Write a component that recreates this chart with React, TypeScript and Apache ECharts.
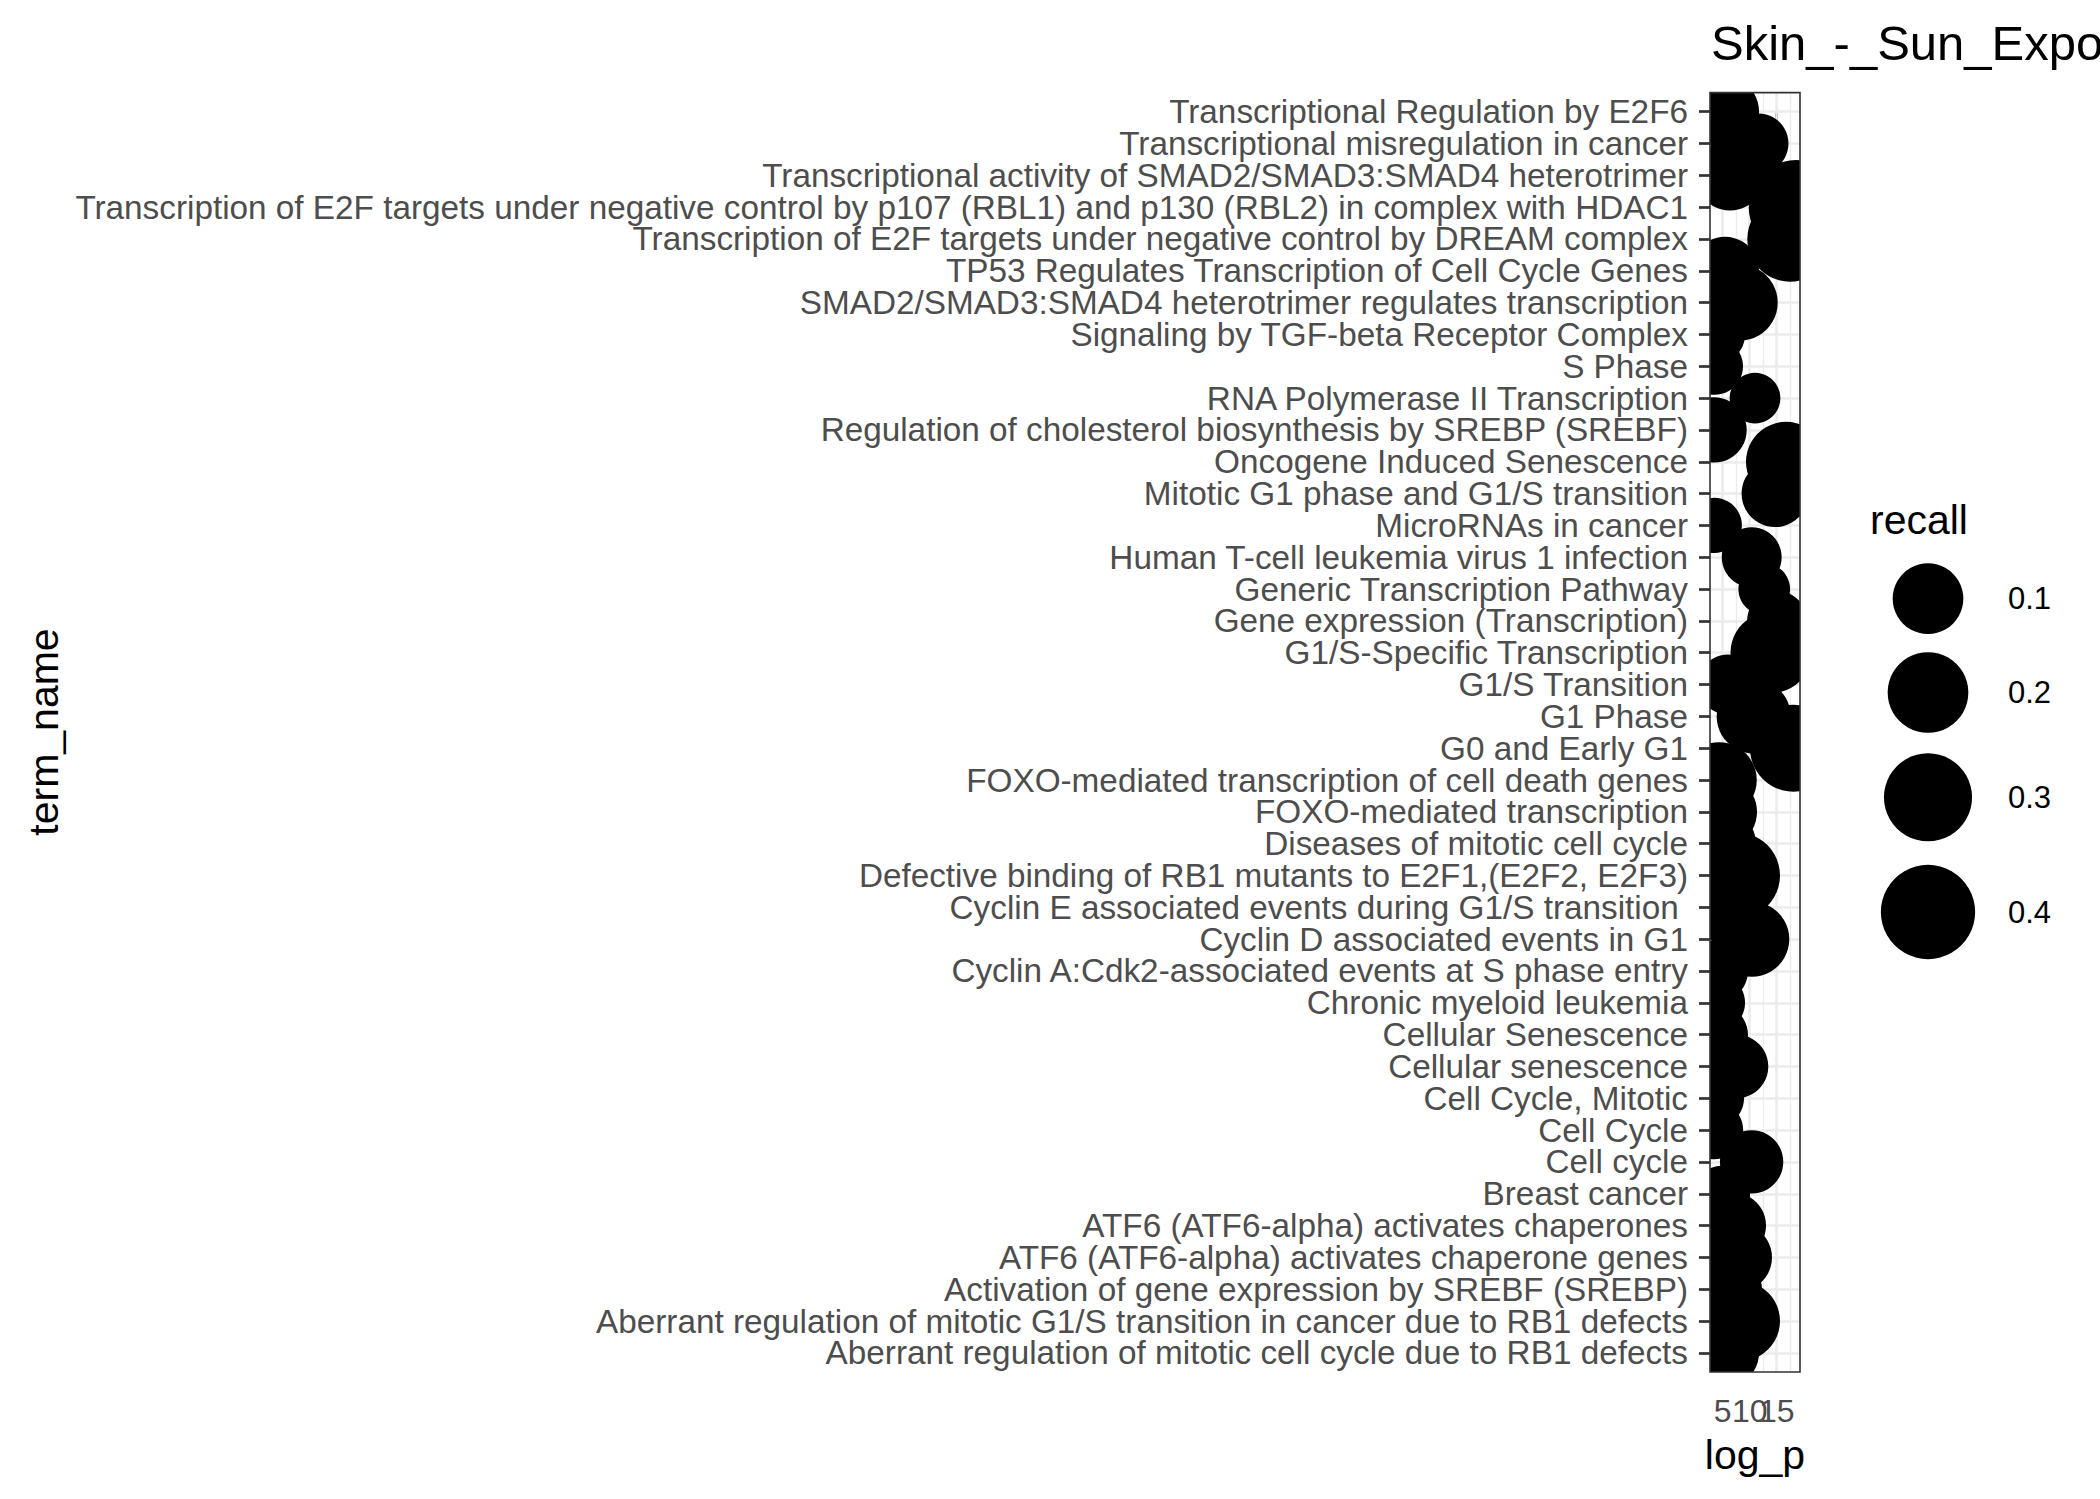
import { useEffect, useRef } from 'react';
import * as echarts from 'echarts';

// term names, top to bottom as drawn
const terms = [
  'Transcriptional Regulation by E2F6',
  'Transcriptional misregulation in cancer',
  'Transcriptional activity of SMAD2/SMAD3:SMAD4 heterotrimer',
  'Transcription of E2F targets under negative control by p107 (RBL1) and p130 (RBL2) in complex with HDAC1',
  'Transcription of E2F targets under negative control by DREAM complex',
  'TP53 Regulates Transcription of Cell Cycle Genes',
  'SMAD2/SMAD3:SMAD4 heterotrimer regulates transcription',
  'Signaling by TGF-beta Receptor Complex',
  'S Phase',
  'RNA Polymerase II Transcription',
  'Regulation of cholesterol biosynthesis by SREBP (SREBF)',
  'Oncogene Induced Senescence',
  'Mitotic G1 phase and G1/S transition',
  'MicroRNAs in cancer',
  'Human T-cell leukemia virus 1 infection',
  'Generic Transcription Pathway',
  'Gene expression (Transcription)',
  'G1/S-Specific Transcription',
  'G1/S Transition',
  'G1 Phase',
  'G0 and Early G1',
  'FOXO-mediated transcription of cell death genes',
  'FOXO-mediated transcription',
  'Diseases of mitotic cell cycle',
  'Defective binding of RB1 mutants to E2F1,(E2F2, E2F3)',
  'Cyclin E associated events during G1/S transition ',
  'Cyclin D associated events in G1',
  'Cyclin A:Cdk2-associated events at S phase entry',
  'Chronic myeloid leukemia',
  'Cellular Senescence',
  'Cellular senescence',
  'Cell Cycle, Mitotic',
  'Cell Cycle',
  'Cell cycle',
  'Breast cancer',
  'ATF6 (ATF6-alpha) activates chaperones',
  'ATF6 (ATF6-alpha) activates chaperone genes',
  'Activation of gene expression by SREBF (SREBP)',
  'Aberrant regulation of mitotic G1/S transition in cancer due to RB1 defects',
  'Aberrant regulation of mitotic cell cycle due to RB1 defects',
];

const logP = [
  5.06, 11.63, 6.35, 18.55, 17.46, 5.43, 8.17, 3.76, 3.48, 10.98,
  3.41, 16.72, 14.69, 3.45, 10.37, 12.69, 15.06, 13.94, 5.98, 10.74,
  18.11, 4.31, 4.69, 4.87, 7.65, 6.35, 10.39, 3.94, 3.76, 4.13,
  7.56, 3.57, 3.41, 10.35, 4.87, 6.91, 7.83, 6.35, 8.2, 5.43,
];

const recall = [
  0.111, 0.037, 0.095, 0.4, 0.261, 0.08, 0.146, 0.031, 0.028, 0.02,
  0.062, 0.192, 0.073, 0.024, 0.037, 0.0202, 0.037, 0.204, 0.037, 0.129,
  0.284, 0.144, 0.111, 0.08, 0.269, 0.148, 0.138, 0.046, 0.031, 0.037,
  0.053, 0.031, 0.031, 0.052, 0.026, 0.067, 0.08, 0.055, 0.192, 0.08,
];

// x tick labels: split over two axes so the overlapping labels are all kept
const xTicksOuter = [5, 15];
const xTicksMiddle = [10];
const xMajorGrid = [5, 10, 15];
const xMinorGrid = [7.5, 12.5, 17.5];
const legendBreaks = [0.1, 0.2, 0.3, 0.4];

const W = 2100;
const H = 1499;
const PANEL = { left: 1710, top: 92.6, width: 90, height: 1279.4 };
const X_MIN = 2.65;
const X_MAX = 19.31;
const Y_MIN = -0.6;
const Y_MAX = terms.length - 1 + 0.6;
const FONT = '"Liberation Sans", Arial, Helvetica, sans-serif';
const TICK_COLOR = '#333333';
const TEXT_GREY = '#4D4D4D';
const GRID_COLOR = '#EBEBEB';

// ggplot-like area scale: diameter in px
function sizeOf(r: number) {
  return 50.7 + 70.7 * Math.sqrt(Math.max(r - 0.02, 0));
}

const legendKeyY = [598.7, 692.5, 797.3, 912];

function xAxisFor(values: number[]) {
  return {
    type: 'value',
    position: 'bottom',
    gridIndex: 0,
    min: X_MIN,
    max: X_MAX,
    axisLine: { show: false },
    splitLine: { show: false },
    axisTick: {
      show: true,
      customValues: values,
      length: 11,
      lineStyle: { color: TICK_COLOR, width: 2.7 },
    },
    axisLabel: {
      show: true,
      customValues: values,
      showMinLabel: true,
      showMaxLabel: true,
      hideOverlap: false,
      color: TEXT_GREY,
      fontSize: 32,
      fontFamily: FONT,
      margin: 23,
    },
  };
}

function yAxisFor(values: number[]) {
  return {
    type: 'value',
    position: 'left',
    gridIndex: 0,
    inverse: true,
    min: Y_MIN,
    max: Y_MAX,
    axisLine: { show: false },
    splitLine: { show: false },
    axisTick: {
      show: true,
      customValues: values,
      length: 11,
      lineStyle: { color: TICK_COLOR, width: 2.7 },
    },
    axisLabel: {
      show: true,
      customValues: values,
      showMinLabel: true,
      showMaxLabel: true,
      hideOverlap: false,
      formatter: (v: number) => terms[Math.round(v)] ?? '',
      color: TEXT_GREY,
      fontSize: 33.3,
      fontFamily: FONT,
      margin: 22,
    },
  };
}

export default function App() {
  const ref = useRef<HTMLDivElement | null>(null);

  useEffect(() => {
    document.body.style.margin = '0';
    const chart = echarts.init(ref.current as HTMLDivElement, null, {
      renderer: 'svg',
      width: W,
      height: H,
    });
    const idx = terms.map((_, i) => i);
    const evenIdx = idx.filter((i) => i % 2 === 0);
    const oddIdx = idx.filter((i) => i % 2 === 1);
    const data = terms.map((_, i) => [logP[i], i, recall[i]]);

    const gridLines: any[] = [
      ...xMinorGrid.map((v) => ({ xAxis: v, lineStyle: { width: 1.3, color: GRID_COLOR, type: 'solid' } })),
      ...xMajorGrid.map((v) => ({ xAxis: v, lineStyle: { width: 2.6, color: GRID_COLOR, type: 'solid' } })),
      ...idx.map((i) => ({ yAxis: i, lineStyle: { width: 2.6, color: GRID_COLOR, type: 'solid' } })),
    ];

    const legendGraphics: any[] = [];
    legendGraphics.push({
      type: 'text',
      x: 1870,
      y: 520,
      style: { text: 'recall', fontSize: 41, fontFamily: FONT, fill: '#000', align: 'left', verticalAlign: 'middle' },
    });
    legendBreaks.forEach((b, k) => {
      legendGraphics.push({
        type: 'circle',
        shape: { cx: 1928, cy: legendKeyY[k], r: sizeOf(b) / 2 },
        style: { fill: '#000' },
      });
      legendGraphics.push({
        type: 'text',
        x: 2008,
        y: legendKeyY[k],
        style: { text: String(b), fontSize: 31, fontFamily: FONT, fill: '#000', align: 'left', verticalAlign: 'middle' },
      });
    });

    chart.setOption({
      animation: false,
      backgroundColor: '#ffffff',
      textStyle: { fontFamily: FONT },
      grid: {
        left: PANEL.left,
        top: PANEL.top,
        width: PANEL.width,
        height: PANEL.height,
        containLabel: false,
        outerBoundsMode: 'none',
        show: true,
        backgroundColor: '#ffffff',
        borderWidth: 0,
      },
      xAxis: [xAxisFor(xTicksOuter), xAxisFor(xTicksMiddle)],
      yAxis: [yAxisFor(evenIdx), yAxisFor(oddIdx)],
      series: [
        {
          type: 'line',
          xAxisIndex: 0,
          yAxisIndex: 0,
          data: [],
          silent: true,
          z: 1,
          markLine: {
            silent: true,
            z: 1,
            animation: false,
            symbol: ['none', 'none'],
            label: { show: false },
            emphasis: { disabled: true },
            data: gridLines,
          },
        },
        {
          type: 'custom',
          xAxisIndex: 0,
          yAxisIndex: 0,
          clip: true,
          z: 5,
          silent: true,
          data,
          encode: { x: 0, y: 1 },
          renderItem: (_params: any, api: any) => {
            const p = api.coord([api.value(0), api.value(1)]);
            const d = sizeOf(api.value(2));
            return {
              type: 'circle',
              shape: { cx: p[0], cy: p[1], r: d / 2 },
              style: { fill: '#000000' },
            };
          },
        },
      ],
      graphic: [
        {
          type: 'rect',
          z: 100,
          silent: true,
          shape: { x: PANEL.left, y: PANEL.top, width: PANEL.width, height: PANEL.height },
          style: { fill: 'none', stroke: TICK_COLOR, lineWidth: 1.6 },
        },
        {
          type: 'text',
          x: 1711,
          y: 43,
          style: {
            text: 'Skin_-_Sun_Exposed_(Lower_leg)',
            fontSize: 49,
            fontFamily: FONT,
            fill: '#000',
            align: 'left',
            verticalAlign: 'middle',
          },
        },
        {
          type: 'text',
          x: PANEL.left + PANEL.width / 2,
          y: 1455,
          style: { text: 'log_p', fontSize: 41, fontFamily: FONT, fill: '#000', align: 'center', verticalAlign: 'middle' },
        },
        {
          type: 'text',
          x: 44,
          y: 732,
          rotation: Math.PI / 2,
          style: { text: 'term_name', fontSize: 41, fontFamily: FONT, fill: '#000', align: 'center', verticalAlign: 'middle' },
        },
        ...legendGraphics,
      ],
    });

    return () => {
      chart.dispose();
    };
  }, []);

  return <div ref={ref} style={{ position: 'fixed', left: 0, top: 0, width: W, height: H }} />;
}
